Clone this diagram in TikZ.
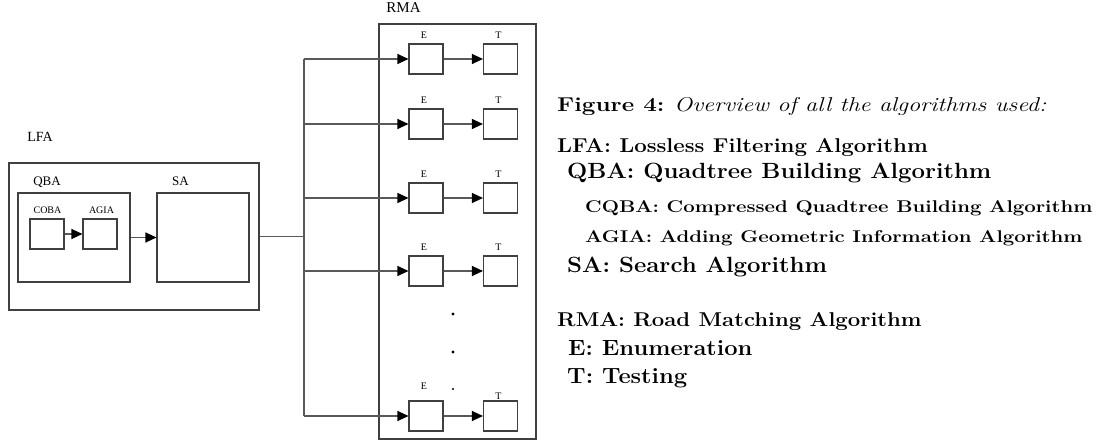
\documentclass[tikz,border=0pt]{standalone}
\usepackage{fontspec}
\usepackage{graphicx}
\newfontfamily\diagfont{Liberation Serif}
\usetikzlibrary{arrows.meta}

\begin{document}
\begin{tikzpicture}[x=1pt, y=-1pt,
  box/.style={draw=black!75, line width=1.1pt, fill=white, inner sep=0pt},
  cell/.style={box, minimum width=34pt, minimum height=30pt},
  wire/.style={draw=black!65, line width=1.1pt},
  flow/.style={wire, -{Triangle[length=11pt, width=10pt, color=black]}},
  lbl/.style={font=\diagfont\fontsize{13}{13}\selectfont, inner sep=0pt, anchor=base},
  tag/.style={font=\diagfont\fontsize{10}{10}\selectfont, inner sep=0pt, anchor=south},
  legend/.style={inner sep=0pt, anchor=base west}]

\newcommand\colE{426};
\newcommand\colT{500.5};
\newcommand\busX{304};
\newcommand\wide[2]{\scalebox{#1}[1]{#2}}

\useasboundingbox (0,0) rectangle (1098,443); %% page size

%% LFA part
\node[box, minimum width=250pt, minimum height=147pt] (lfa) at (134,236.5) {};
\node[box, minimum width=112pt, minimum height=89pt] (qba) at (74,237.5) {};
\node[box, minimum width=92pt, minimum height=89pt] (sa) at (203,237.5) {};
\node[cell] (coba) at (47,234) {};
\node[cell] (agia) at (100,234) {};

\node[lbl, font=\diagfont\fontsize{14}{14}\selectfont] (lfalbl) at (40,141.5) {LFA};
\node[lbl] (qbalbl) at (47,185.5) {QBA};
\node[lbl] (salbl) at (180.5,185.5) {SA};
\node[lbl, font=\diagfont\fontsize{10}{10}\selectfont] (cobalbl) at (47.5,214) {COBA};
\node[lbl, font=\diagfont\fontsize{10}{10}\selectfont] (agialbl) at (101.5,214) {AGIA};

\draw[flow] (coba) -- (agia);
\draw[flow] (qba) -- (sa);

%% RMA part
\node[box, minimum width=157pt, minimum height=415pt] (rma) at (457.5,231.5) {};
\node[lbl, font=\diagfont\fontsize{15}{15}\selectfont] (rmalbl) at (403.5,12.3) {RMA};

\node[cell] (e1) at (\colE,59) {};
\node[cell] (t1) at (\colT,59) {};
\node[cell] (e2) at (\colE,124) {};
\node[cell] (t2) at (\colT,124) {};
\node[cell] (e3) at (\colE,198) {};
\node[cell] (t3) at (\colT,198) {};
\node[cell] (e4) at (\colE,271) {};
\node[cell] (t4) at (\colT,271) {};
\node[cell] (e5) at (\colE,416) {};
\node[cell] (t5) at (\colT,416) {};

\node[tag, xshift=-2pt, yshift=5pt] (le1) at (e1.north) {E};
\node[tag, xshift=-2pt, yshift=5pt] (lt1) at (t1.north) {T};
\node[tag, xshift=-2pt, yshift=5pt] (le2) at (e2.north) {E};
\node[tag, xshift=-2pt, yshift=5pt] (lt2) at (t2.north) {T};
\node[tag, xshift=-2pt, yshift=5pt] (le3) at (e3.north) {E};
\node[tag, xshift=-2pt, yshift=5pt] (lt3) at (t3.north) {T};
\node[tag, xshift=-2pt, yshift=5pt] (le4) at (e4.north) {E};
\node[tag, xshift=-2pt, yshift=5pt] (lt4) at (t4.north) {T};
\node[tag, xshift=-2pt, yshift=11pt] (le5) at (e5.north) {E};
\node[tag, xshift=-2pt, yshift=1pt] (lt5) at (t5.north) {T};

%% dots
\fill (453,314) circle (1.6);
\fill (453,352) circle (1.6);
\fill (453,389) circle (1.1);

%% bus
\coordinate (bus1) at (\busX,59);
\coordinate (bus2) at (\busX,124);
\coordinate (bus3) at (\busX,198);
\coordinate (bus4) at (\busX,271);
\coordinate (bus5) at (\busX,416);
\coordinate (busl) at (\busX,236.5);

\draw[wire] (bus1) -- (bus5);
\draw[wire] (lfa.east) -- (busl);
\draw[flow] (bus1) -- (e1);
\draw[flow] (bus2) -- (e2);
\draw[flow] (bus3) -- (e3);
\draw[flow] (bus4) -- (e4);
\draw[flow] (bus5) -- (e5);
\draw[flow] (e1) -- (t1);
\draw[flow] (e2) -- (t2);
\draw[flow] (e3) -- (t3);
\draw[flow] (e4) -- (t4);
\draw[flow] (e5) -- (t5);

%% legend
\node[legend, font=\fontsize{20}{20}\selectfont] (fig) at (557,111.5)
  {\wide{1.21}{\textbf{Figure 4:} \textit{Overview of all the algorithms used:}}};
\node[legend, font=\bfseries\fontsize{20}{20}\selectfont] (leglfa) at (557,152.7)
  {\wide{1.11}{LFA: Lossless Filtering Algorithm}};
\node[legend, font=\bfseries\fontsize{22}{22}\selectfont] (legqba) at (567,179)
  {\wide{1.087}{QBA: Quadtree Building Algorithm}};
\node[legend, font=\bfseries\fontsize{17}{17}\selectfont] (legcqba) at (585,212.7)
  {\wide{1.2}{CQBA: Compressed Quadtree Building Algorithm}};
\node[legend, font=\bfseries\fontsize{17}{17}\selectfont] (legagia) at (585,243)
  {\wide{1.2}{AGIA: Adding Geometric Information Algorithm}};
\node[legend, font=\bfseries\fontsize{22}{22}\selectfont] (legsa) at (567,272.7)
  {\wide{1.09}{SA: Search Algorithm}};
\node[legend, font=\bfseries\fontsize{20}{20}\selectfont] (legrma) at (557,327)
  {\wide{1.106}{RMA: Road Matching Algorithm}};
\node[legend, font=\bfseries\fontsize{22}{22}\selectfont] (lege) at (568,356)
  {\wide{1.076}{E: Enumeration}};
\node[legend, font=\bfseries\fontsize{22}{22}\selectfont] (legt) at (567,384)
  {\wide{1.08}{T: Testing}};

\end{tikzpicture}
\end{document}
